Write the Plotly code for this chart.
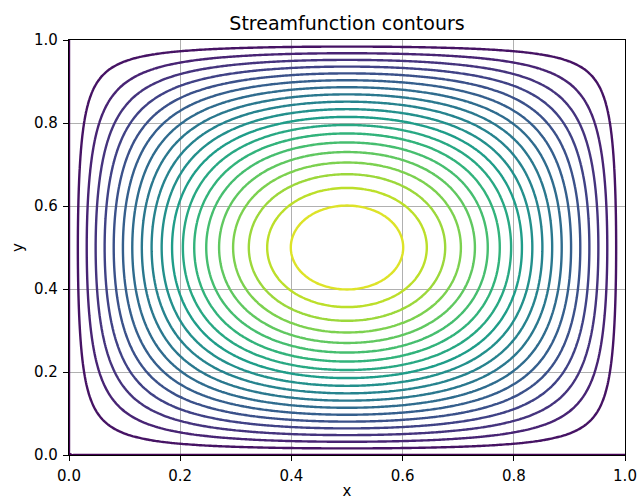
import numpy as np
import plotly.graph_objects as go

# grid and contour levels
x = np.linspace(0.0, 1.0, 201)
y = np.linspace(0.0, 1.0, 201)
level_start = 0.0
level_end = 1.0
level_step = 0.05
x_ticks = [0.0, 0.2, 0.4, 0.6, 0.8, 1.0]
y_ticks = [0.0, 0.2, 0.4, 0.6, 0.8, 1.0]

X, Y = np.meshgrid(x, y)
psi = np.sin(np.pi * X) * np.sin(np.pi * Y)

fig = go.Figure(go.Contour(
    x=x, y=y, z=psi,
    zmin=level_start, zmax=level_end,
    contours=dict(start=level_start, end=level_end, size=level_step, coloring="lines"),
    colorscale="Viridis",
    showscale=False,
    line=dict(width=2.4, smoothing=1.0),
    hoverinfo="skip",
))

axis_common = dict(
    range=[0, 1], showline=True, mirror=True, linecolor="black", linewidth=1.2,
    ticks="outside", ticklen=5, tickwidth=1, tickcolor="black",
    showgrid=True, gridcolor="#b0b0b0", gridwidth=1, zeroline=False,
    tickfont=dict(family="DejaVu Sans", size=15, color="black"),
    tickformat=".1f", automargin=False, ticklabelstandoff=2,
)

fig.update_layout(
    width=637, height=500,
    margin=dict(l=69, r=12, t=40, b=45),
    paper_bgcolor="white", plot_bgcolor="white",
    title=dict(text="Streamfunction contours", x=0.5, xanchor="center",
               xref="paper", y=1 - 23 / 500, yanchor="middle",
               font=dict(family="DejaVu Sans", size=19, color="black")),
    xaxis=dict(axis_common, tickvals=x_ticks,
               title=dict(text="x", font=dict(family="DejaVu Sans", size=15, color="black"), standoff=5)),
    yaxis=dict(axis_common, tickvals=y_ticks,
               title=dict(text="y", font=dict(family="DejaVu Sans", size=15, color="black"), standoff=6)),
    showlegend=False,
)

fig.write_html("out.html")
